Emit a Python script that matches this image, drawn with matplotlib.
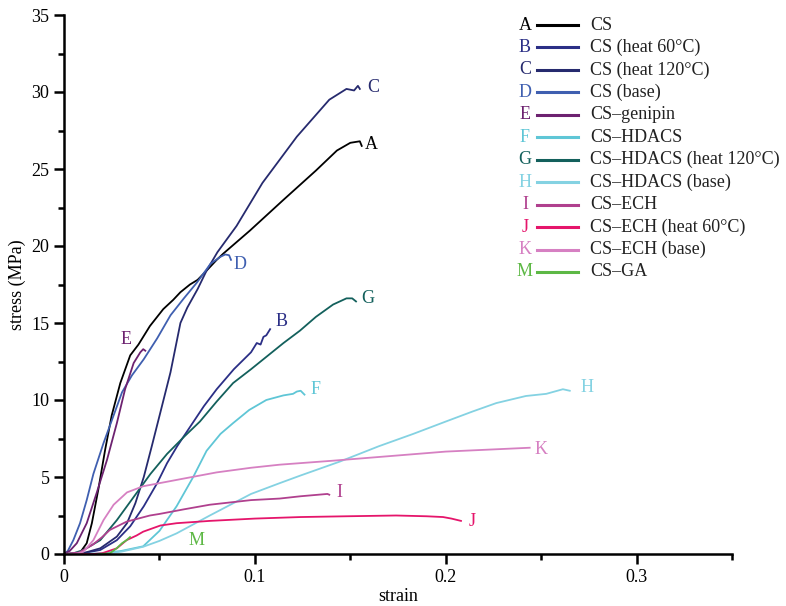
import matplotlib
matplotlib.use('Agg')
from matplotlib import pyplot as plt
from matplotlib.lines import Line2D
from matplotlib.ticker import MultipleLocator, FuncFormatter

plt.rcParams['font.family'] = ['Liberation Serif', 'DejaVu Serif']

# stress-strain curves (strain, stress MPa)
A_x = [0, 0.006, 0.0084, 0.0119, 0.0146, 0.018, 0.0216, 0.025, 0.0295, 0.0347, 0.039, 0.045, 0.052,
       0.0572, 0.061, 0.066, 0.070, 0.0747, 0.080, 0.0834, 0.0974, 0.115, 0.132, 0.143, 0.150, 0.155, 0.156]
A_y = [0, 0.0, 0.09, 0.7, 2.0, 4.2, 6.8, 9.0, 11.1, 12.9, 13.6, 14.8, 15.9,
       16.5, 17.0, 17.5, 17.8, 18.4, 19.1, 19.5, 21.0, 23.0, 24.9, 26.2, 26.7, 26.8, 26.5]

B_x = [0, 0.01, 0.019, 0.0277, 0.0347, 0.0418, 0.0488, 0.054, 0.0593, 0.0663, 0.0733, 0.080,
       0.089, 0.098, 0.101, 0.103, 0.1045, 0.106, 0.108]
B_y = [0, 0.05, 0.26, 0.9, 1.8, 3.1, 4.6, 5.9, 7.0, 8.3, 9.6, 10.7,
       12.0, 13.1, 13.7, 13.6, 14.1, 14.2, 14.6]

C_x = [0, 0.01, 0.019, 0.0277, 0.033, 0.0374, 0.0418, 0.046, 0.0505, 0.0558, 0.061, 0.0646, 0.070,
       0.0747, 0.0804, 0.0904, 0.104, 0.122, 0.139, 0.148, 0.152, 0.154, 0.155]
C_y = [0, 0.05, 0.37, 1.13, 2.0, 3.3, 5.0, 7.0, 9.2, 11.8, 15.0, 16.0, 17.2,
       18.4, 19.6, 21.3, 24.1, 27.1, 29.5, 30.2, 30.1, 30.4, 30.2]

D_x = [0, 0.002, 0.0049, 0.0084, 0.0119, 0.0154, 0.0207, 0.026, 0.0304, 0.0356, 0.0418, 0.0488,
       0.0558, 0.0628, 0.0698, 0.0768, 0.082, 0.0845, 0.0865, 0.0875]
D_y = [0, 0.2, 0.9, 2.0, 3.5, 5.2, 7.2, 9.0, 10.5, 11.6, 12.65, 14.0,
       15.5, 16.6, 17.65, 18.85, 19.3, 19.45, 19.4, 19.1]

E_x = [0, 0.003, 0.0067, 0.0119, 0.0172, 0.0225, 0.0277, 0.032, 0.0365, 0.040, 0.0415, 0.0426]
E_y = [0, 0.2, 0.7, 2.0, 4.0, 6.1, 8.5, 10.7, 12.4, 13.1, 13.3, 13.2]

F_x = [0, 0.01, 0.02, 0.03, 0.0415, 0.05, 0.059, 0.0677, 0.0747, 0.082, 0.0886, 0.097,
       0.106, 0.115, 0.120, 0.122, 0.124, 0.126]
F_y = [0, 0.0, 0.05, 0.2, 0.5, 1.5, 3.1, 5.0, 6.7, 7.8, 8.5, 9.35,
       10.0, 10.3, 10.4, 10.55, 10.6, 10.35]

G_x = [0, 0.005, 0.0102, 0.019, 0.0277, 0.0365, 0.0453, 0.054, 0.0628, 0.0712, 0.080, 0.0886,
       0.098, 0.106, 0.115, 0.1236, 0.132, 0.141, 0.148, 0.151, 0.153]
G_y = [0, 0.05, 0.26, 0.9, 2.2, 3.7, 5.2, 6.5, 7.6, 8.6, 9.9, 11.1,
       12.0, 12.8, 13.7, 14.5, 15.4, 16.2, 16.6, 16.6, 16.4]

H_x = [0, 0.02, 0.03, 0.0415, 0.05, 0.059, 0.0764, 0.098, 0.113, 0.124, 0.1445, 0.165,
       0.183, 0.200, 0.214, 0.2265, 0.242, 0.2527, 0.2614, 0.265]
H_y = [0, 0.0, 0.15, 0.47, 0.85, 1.34, 2.5, 3.9, 4.6, 5.1, 6.0, 7.0,
       7.8, 8.6, 9.25, 9.8, 10.26, 10.4, 10.7, 10.6]

I_x = [0, 0.008, 0.015, 0.020, 0.024, 0.0328, 0.045, 0.050, 0.0628, 0.0764, 0.098, 0.113,
       0.124, 0.138, 0.139]
I_y = [0, 0.1, 0.6, 1.1, 1.56, 2.1, 2.5, 2.6, 2.9, 3.2, 3.5, 3.6,
       3.75, 3.9, 3.85]

J_x = [0, 0.015, 0.020, 0.0277, 0.0328, 0.038, 0.0415, 0.0505, 0.059, 0.0764, 0.100, 0.124,
       0.148, 0.174, 0.190, 0.1986, 0.203, 0.208]
J_y = [0, 0.0, 0.05, 0.37, 0.9, 1.2, 1.45, 1.85, 2.0, 2.15, 2.3, 2.4,
       2.45, 2.5, 2.45, 2.4, 2.3, 2.15]

K_x = [0, 0.006, 0.0102, 0.0154, 0.0207, 0.026, 0.033, 0.0415, 0.0628, 0.080, 0.098, 0.113,
       0.140, 0.165, 0.200, 0.244]
K_y = [0, 0.0, 0.15, 0.9, 2.2, 3.2, 4.0, 4.4, 4.9, 5.3, 5.6, 5.8,
       6.05, 6.3, 6.65, 6.9]

M_x = [0.018, 0.024, 0.0276, 0.0304, 0.0328, 0.0346]
M_y = [0, 0.04, 0.37, 0.7, 0.9, 1.1]

letters = ['A', 'B', 'C', 'D', 'E', 'F', 'G', 'H', 'I', 'J', 'K', 'M']
names = ['CS', 'CS (heat 60\u00b0C)', 'CS (heat 120\u00b0C)', 'CS (base)', 'CS\u2013genipin',
         'CS\u2013HDACS', 'CS\u2013HDACS (heat 120\u00b0C)', 'CS\u2013HDACS (base)', 'CS\u2013ECH',
         'CS\u2013ECH (heat 60\u00b0C)', 'CS\u2013ECH (base)', 'CS\u2013GA']
colors = ['#000000', '#2b2f86', '#262a6e', '#3f5fb0', '#6d2270', '#5fc6d6',
          '#13605c', '#84d2e2', '#b0408e', '#e5156b', '#d680c2', '#5db845']
curves = [(A_x, A_y), (B_x, B_y), (C_x, C_y), (D_x, D_y), (E_x, E_y), (F_x, F_y),
          (G_x, G_y), (H_x, H_y), (I_x, I_y), (J_x, J_y), (K_x, K_y), (M_x, M_y)]

# letter tags next to curve ends
tag_x = [0.161, 0.114, 0.162, 0.092, 0.0325, 0.132, 0.159, 0.274, 0.1445, 0.214, 0.250, 0.0695]
tag_y = [26.6, 15.1, 30.3, 18.8, 13.9, 10.65, 16.6, 10.8, 4.0, 2.1, 6.8, 0.9]

fig = plt.figure(figsize=(7.86, 6.06), dpi=100)
ax = fig.add_axes([64 / 786, 1 - 554 / 606, (732 - 64) / 786, (554 - 15) / 606])

for (x, y), c in zip(curves, colors):
    ax.plot(x, y, color=c, lw=1.3)

for t, tx, ty, c in zip(letters, tag_x, tag_y, colors):
    ax.text(tx, ty, t, color=c, fontsize=13, ha='center', va='center')

ax.set_xlim(0, 0.35)
ax.set_ylim(0, 35)
ax.xaxis.set_major_locator(MultipleLocator(0.1))
ax.xaxis.set_minor_locator(MultipleLocator(0.05))
ax.yaxis.set_major_locator(MultipleLocator(5))
ax.yaxis.set_minor_locator(MultipleLocator(2.5))
ax.xaxis.set_major_formatter(FuncFormatter(lambda v, p: '0' if v == 0 else '%.1f' % v))
ax.spines['top'].set_visible(False)
ax.spines['right'].set_visible(False)
for s in ['left', 'bottom']:
    ax.spines[s].set_linewidth(1.8)
ax.tick_params(which='major', direction='out', length=7.5, width=1.8, labelsize=13, pad=3)
ax.tick_params(which='minor', direction='out', length=4.5, width=1.8)
ax.set_xlabel('strain', fontsize=13, labelpad=2)
ax.set_ylabel('stress (MPa)', fontsize=13, labelpad=4)

# legend drawn by hand: letter, line, name
for i, (t, n, c) in enumerate(zip(letters, names, colors)):
    yy = 1 - (25 + i * 22.45) / 606
    fig.text(525 / 786, yy, t, color=c, fontsize=13, ha='center', va='center')
    fig.add_artist(Line2D([537 / 786, 578 / 786], [yy, yy], color=c, lw=2.2,
                          transform=fig.transFigure))
    fig.text(590 / 786, yy, n, color='#222222', fontsize=13, ha='left', va='center')

fig.savefig('out.png', dpi=100)
